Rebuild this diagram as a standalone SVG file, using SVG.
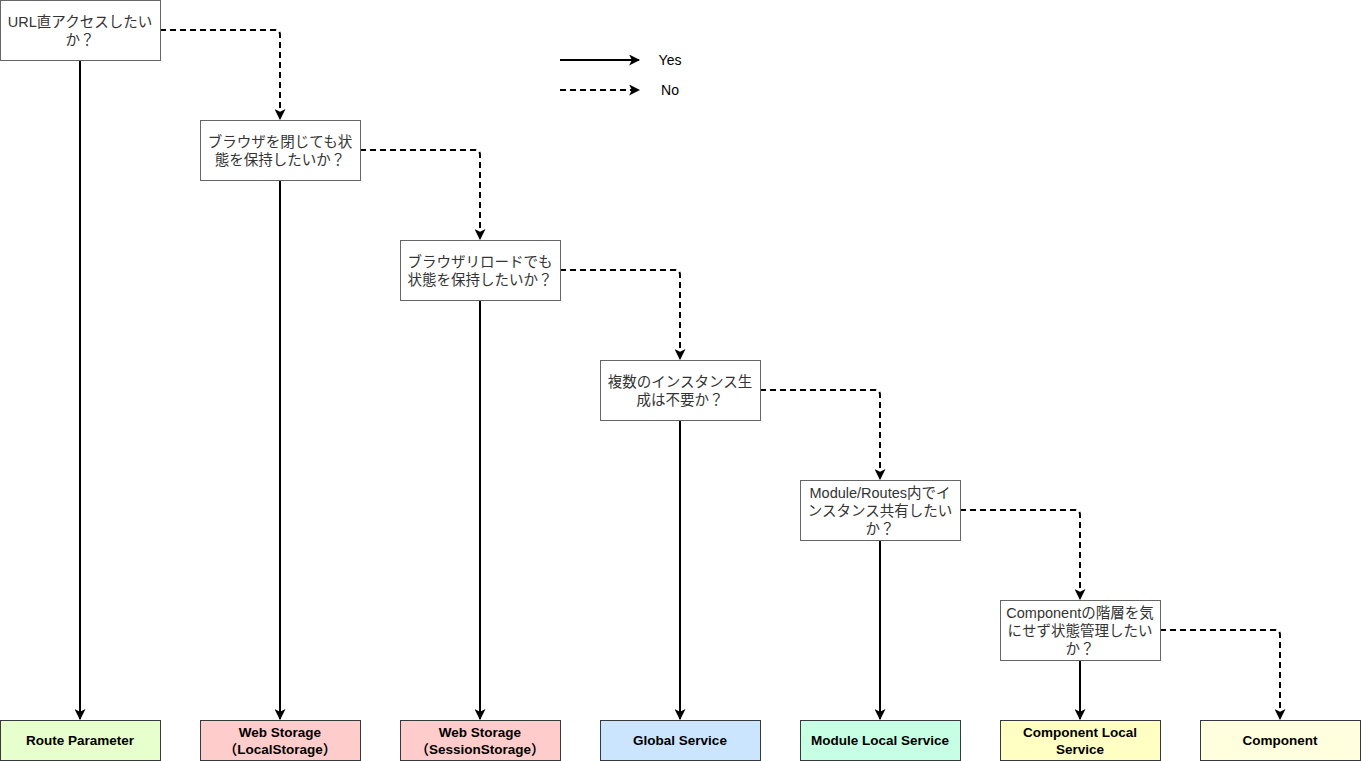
<svg xmlns="http://www.w3.org/2000/svg" width="1361" height="761" viewBox="0 0 1361 761">
<defs>
<marker id="ah" viewBox="0 0 10 10" refX="9" refY="5" markerWidth="5.5" markerHeight="5.5" orient="auto" markerUnits="strokeWidth">
<path d="M0,0 L10,5 L0,10 L2.5,5 Z" fill="#000"/>
</marker>
<style>
.dec{fill:#fff;stroke:#666;stroke-width:1}
.res{stroke:#36393d;stroke-width:1}
.dt{font-family:"Liberation Sans","Noto Sans CJK JP",sans-serif;font-size:14.5px;fill:#333;text-anchor:middle}
.rt{font-family:"Liberation Sans","Noto Sans CJK JP",sans-serif;font-size:13.5px;font-weight:bold;fill:#000;text-anchor:middle}
.lt{font-family:"Liberation Sans","Noto Sans CJK JP",sans-serif;font-size:14px;fill:#000;text-anchor:middle}
.yes{fill:none;stroke:#000;stroke-width:2;marker-end:url(#ah)}
.no{fill:none;stroke:#000;stroke-width:2;stroke-dasharray:6 4;marker-end:url(#ah)}
</style>
</defs>
<rect width="1361" height="761" fill="#fff"/>
<g id="connectors">
<path class="yes" d="M80,60 V719"/>
<path class="yes" d="M280,180 V719"/>
<path class="yes" d="M480,300 V719"/>
<path class="yes" d="M680,420 V719"/>
<path class="yes" d="M880,540 V719"/>
<path class="yes" d="M1080,660 V719"/>
<path class="no" d="M160,30 H275 Q280,30 280,35 V119"/>
<path class="no" d="M360,150 H475 Q480,150 480,155 V239"/>
<path class="no" d="M560,270 H675 Q680,270 680,275 V359"/>
<path class="no" d="M760,390 H875 Q880,390 880,395 V479"/>
<path class="no" d="M960,510 H1075 Q1080,510 1080,515 V599"/>
<path class="no" d="M1160,630 H1275 Q1280,630 1280,635 V719"/>
</g>
<g id="legend">
<path class="yes" d="M560,60 H639"/>
<text class="lt" x="670" y="65">Yes</text>
<path class="no" d="M560,90 H639"/>
<text class="lt" x="670" y="95">No</text>
</g>
<g id="q1">
<rect class="dec" x="0.5" y="0.5" width="160" height="60"/>
<text class="dt" x="80" y="27">URL直アクセスしたい</text>
<text class="dt" x="80" y="45">か？</text>
</g>
<g id="q2">
<rect class="dec" x="200.5" y="120.5" width="160" height="60"/>
<text class="dt" x="280" y="147">ブラウザを閉じても状</text>
<text class="dt" x="280" y="165">態を保持したいか？</text>
</g>
<g id="q3">
<rect class="dec" x="400.5" y="240.5" width="160" height="60"/>
<text class="dt" x="480" y="267">ブラウザリロードでも</text>
<text class="dt" x="480" y="285">状態を保持したいか？</text>
</g>
<g id="q4">
<rect class="dec" x="600.5" y="360.5" width="160" height="60"/>
<text class="dt" x="680" y="387">複数のインスタンス生</text>
<text class="dt" x="680" y="405">成は不要か？</text>
</g>
<g id="q5">
<rect class="dec" x="800.5" y="480.5" width="160" height="60"/>
<text class="dt" x="880" y="498">Module/Routes内でイ</text>
<text class="dt" x="880" y="516">ンスタンス共有したい</text>
<text class="dt" x="880" y="534">か？</text>
</g>
<g id="q6">
<rect class="dec" x="1000.5" y="600.5" width="160" height="60"/>
<text class="dt" x="1080" y="618">Componentの階層を気</text>
<text class="dt" x="1080" y="636">にせず状態管理したい</text>
<text class="dt" x="1080" y="654">か？</text>
</g>
<g id="r1">
<rect class="res" x="0.5" y="720.5" width="160" height="40" fill="#E6FFCC"/>
<text class="rt" x="80" y="745">Route Parameter</text>
</g>
<g id="r2">
<rect class="res" x="200.5" y="720.5" width="160" height="40" fill="#FFCCCC"/>
<text class="rt" x="280" y="737">Web Storage</text>
<text class="rt" x="280" y="754">（LocalStorage）</text>
</g>
<g id="r3">
<rect class="res" x="400.5" y="720.5" width="160" height="40" fill="#FFCCCC"/>
<text class="rt" x="480" y="737">Web Storage</text>
<text class="rt" x="480" y="754">（SessionStorage）</text>
</g>
<g id="r4">
<rect class="res" x="600.5" y="720.5" width="160" height="40" fill="#CCE5FF"/>
<text class="rt" x="680" y="745">Global Service</text>
</g>
<g id="r5">
<rect class="res" x="800.5" y="720.5" width="160" height="40" fill="#C7FFE4"/>
<text class="rt" x="880" y="745">Module Local Service</text>
</g>
<g id="r6">
<rect class="res" x="1000.5" y="720.5" width="160" height="40" fill="#FFFFC4"/>
<text class="rt" x="1080" y="737">Component Local</text>
<text class="rt" x="1080" y="754">Service</text>
</g>
<g id="r7">
<rect class="res" x="1200.5" y="720.5" width="160" height="40" fill="#FFFFDD"/>
<text class="rt" x="1280" y="745">Component</text>
</g>
</svg>
